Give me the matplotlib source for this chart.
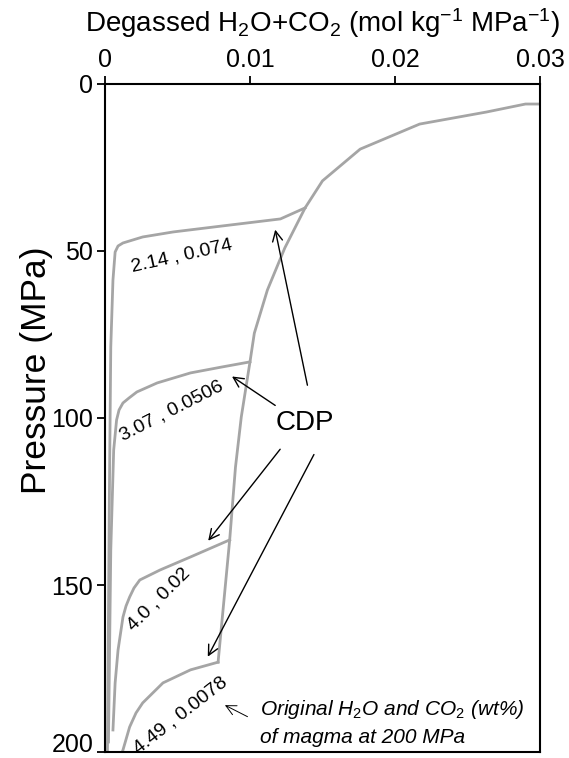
import matplotlib
matplotlib.use("Agg")
import matplotlib.pyplot as plt
import matplotlib.transforms as mtransforms

plt.rcParams['font.family'] = ['Liberation Sans', 'DejaVu Sans']
plt.rcParams['mathtext.fontset'] = 'custom'
plt.rcParams['mathtext.rm'] = 'Liberation Sans'
plt.rcParams['mathtext.it'] = 'Liberation Sans:italic'

# envelope (upper degassing path) and the four magma curves: x = degassed, p = pressure (MPa)
env_x = [0.0300, 0.0290, 0.0263, 0.0217, 0.0176, 0.0150, 0.0138, 0.0124, 0.0112, 0.0103, 0.0100, 0.0094, 0.0090, 0.0086, 0.0078]
env_p = [6.0, 6.0, 8.4, 12.0, 19.5, 29.0, 37.1, 49.1, 61.7, 74.6, 83.2, 99.7, 114.7, 136.5, 173.1]

c214_x = [0.00017, 0.0003, 0.0004, 0.00055, 0.0007, 0.0009, 0.00124, 0.0026, 0.0047, 0.0081, 0.0121, 0.0138]
c214_p = [199.4, 124.6, 78.7, 58.7, 50.3, 48.5, 47.6, 45.8, 44.3, 42.5, 40.4, 37.1]

c307_x = [0.00024, 0.0004, 0.0006, 0.0008, 0.00097, 0.00124, 0.00166, 0.0022, 0.0036, 0.0059, 0.0081, 0.0100]
c307_p = [197.0, 139.5, 109.6, 100.6, 97.6, 95.5, 94.0, 92.2, 89.5, 86.5, 84.7, 83.2]

c40_x = [0.00055, 0.0007, 0.0009, 0.00124, 0.00145, 0.0017, 0.0020, 0.0024, 0.0038, 0.0059, 0.0086]
c40_p = [193.4, 179.3, 169.5, 159.6, 156.3, 153.6, 150.9, 148.5, 145.5, 141.6, 136.5]

c449_x = [0.0011, 0.00124, 0.0017, 0.00214, 0.0026, 0.0040, 0.0059, 0.0078]
c449_p = [201.0, 199.4, 192.5, 188.3, 185.3, 179.3, 175.4, 173.1]

labels = ["2.14 , 0.074", "3.07 , 0.0506", "4.0 , 0.02", "4.49 , 0.0078"]
label_x = [0.0053, 0.0046, 0.0037, 0.0052]
label_p = [51.5, 97.9, 154.2, 188.9]
label_rot = [12.6, 27, 45, 38]

xticks = [0, 0.01, 0.02, 0.03]
xticklabels = ["0", "0.01", "0.02", "0.03"]
yticks = [0, 50, 100, 150, 200]

gray = '#a5a5a5'

fig = plt.figure(figsize=(5.69, 7.58), dpi=100)
ax = fig.add_axes([0.1845, 0.0079, 0.7645, 0.8813])

for xs, ps in [(env_x, env_p), (c214_x, c214_p), (c307_x, c307_p), (c40_x, c40_p), (c449_x, c449_p)]:
    ax.plot(xs, ps, color=gray, lw=2.0, solid_joinstyle='round')

ax.set_xlim(0, 0.03)
ax.set_ylim(200, 0)

ax.xaxis.tick_top()
ax.xaxis.set_label_position('top')
ax.set_xticks(xticks)
ax.set_xticklabels(xticklabels)
ax.set_yticks(yticks)
ax.tick_params(axis='both', direction='out', length=5.5, width=1.3, labelsize=18, pad=3)
for s in ax.spines.values():
    s.set_linewidth(1.5)

# lift the bottom "200" so it is not cut by the figure edge
lbl = ax.get_yticklabels()[-1]
lbl.set_transform(lbl.get_transform() + mtransforms.ScaledTranslation(0, 7 / 72, fig.dpi_scale_trans))

ax.set_xlabel("Degassed H$_2$O+CO$_2$ (mol kg$^{-1}$ MPa$^{-1}$)", fontsize=20, labelpad=12)
ax.set_ylabel("Pressure (MPa)", fontsize=25.5)
ax.yaxis.set_label_coords(-0.12, 0.572)

for t, x, p, r in zip(labels, label_x, label_p, label_rot):
    ax.text(x, p, t, fontsize=14, rotation=r, ha='center', va='center', rotation_mode='anchor')

ax.text(0.0138, 101.5, "CDP", fontsize=20, ha='center', va='center')

arrow = dict(arrowstyle='->', color='black', lw=1.0, mutation_scale=18)
cdp_tails = [(0.0140, 91.0), (0.0119, 96.7), (0.0122, 108.7), (0.0145, 110.2)]
cdp_heads = [(0.0117, 42.8), (0.0086, 87.1), (0.0070, 137.4), (0.0070, 172.2)]
for tail, head in zip(cdp_tails, cdp_heads):
    ax.annotate("", xy=head, xytext=tail, arrowprops=arrow)

ax.annotate("", xy=(0.0081, 185.6), xytext=(0.0100, 189.8),
            arrowprops=dict(arrowstyle='->', color='black', lw=0.7, mutation_scale=18))
ax.text(0.0107, 187.4, "Original H$_2$O and CO$_2$ (wt%)", fontsize=15, style='italic', va='center')
ax.text(0.0107, 195.8, "of magma at 200 MPa", fontsize=15, style='italic', va='center')

fig.savefig("out.png", dpi=100)
